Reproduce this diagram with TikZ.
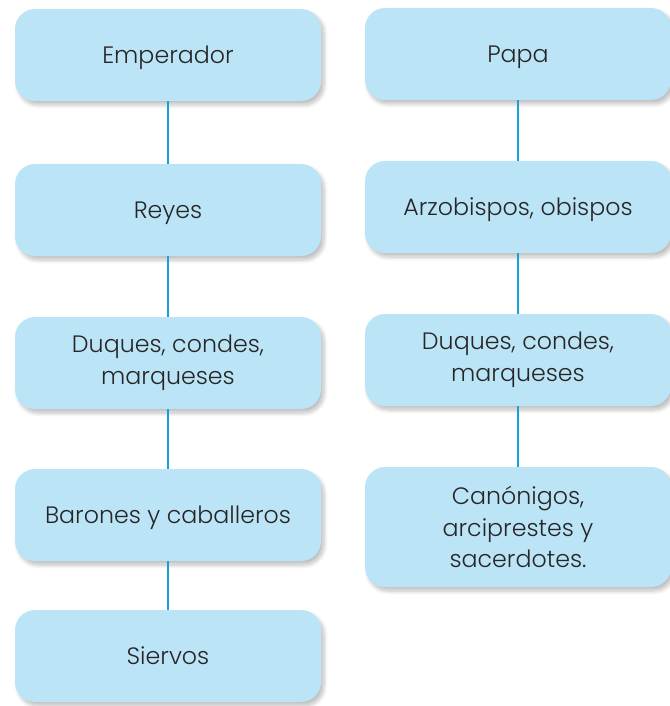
\documentclass[tikz,border=0pt]{standalone}
\usepackage{fontspec}
\setmainfont{Poppins}[UprightFont=* Light]
\usepackage{tikz}
\usetikzlibrary{shapes,arrows,shadows.blur}
\definecolor{cajaazul}{RGB}{188,228,247}
\definecolor{lineaazul}{RGB}{22,160,220}
\tikzstyle{rango} = [rectangle, rounded corners=0.4cm, minimum width=6.12cm, minimum height=1.84cm, fill=cajaazul, align=center, font=\fontsize{13.5}{18}\selectfont, text=black!85, blur shadow={shadow xshift=0.06cm, shadow yshift=-0.08cm, shadow blur steps=8, shadow opacity=25}]
\tikzstyle{line} = [draw=lineaazul, line width=0.9pt]

\begin{document}
\begin{tikzpicture}
        \useasboundingbox (0,0) rectangle (13.4,-14.12);
        % nobleza
        \node (Emp) [rango, xshift=3.36cm, yshift=-1.1cm, text depth=0pt] {Emperador};
        \node (Rey) [rango, xshift=3.36cm, yshift=-4.2cm, text depth=0pt] {Reyes};
        \node (DuqL) [rango, xshift=3.36cm, yshift=-7.26cm] {Duques, condes,\\ marqueses};
        \node (Bar) [rango, xshift=3.36cm, yshift=-10.3cm, text depth=0pt] {Barones y caballeros};
        \node (Sie) [rango, xshift=3.36cm, yshift=-13.12cm, text depth=0pt] {Siervos};
        % clero
        \node (Pap) [rango, xshift=10.36cm, yshift=-1.08cm, text depth=0pt] {Papa};
        \node (Arz) [rango, xshift=10.36cm, yshift=-4.14cm, text depth=0pt] {Arzobispos, obispos};
        \node (DuqR) [rango, xshift=10.36cm, yshift=-7.2cm] {Duques, condes,\\ marqueses};
        \node (Can) [rango, xshift=10.36cm, yshift=-10.54cm, minimum height=2.4cm] {Canónigos,\\ arciprestes y\\ sacerdotes.};

        \path [line] (Emp) -- (Rey);
        \path [line] (Rey) -- (DuqL);
        \path [line] (DuqL) -- (Bar);
        \path [line] (Bar) -- (Sie);
        \path [line] (Pap) -- (Arz);
        \path [line] (Arz) -- (DuqR);
        \path [line] (DuqR) -- (Can);
    \end{tikzpicture}
\end{document}
